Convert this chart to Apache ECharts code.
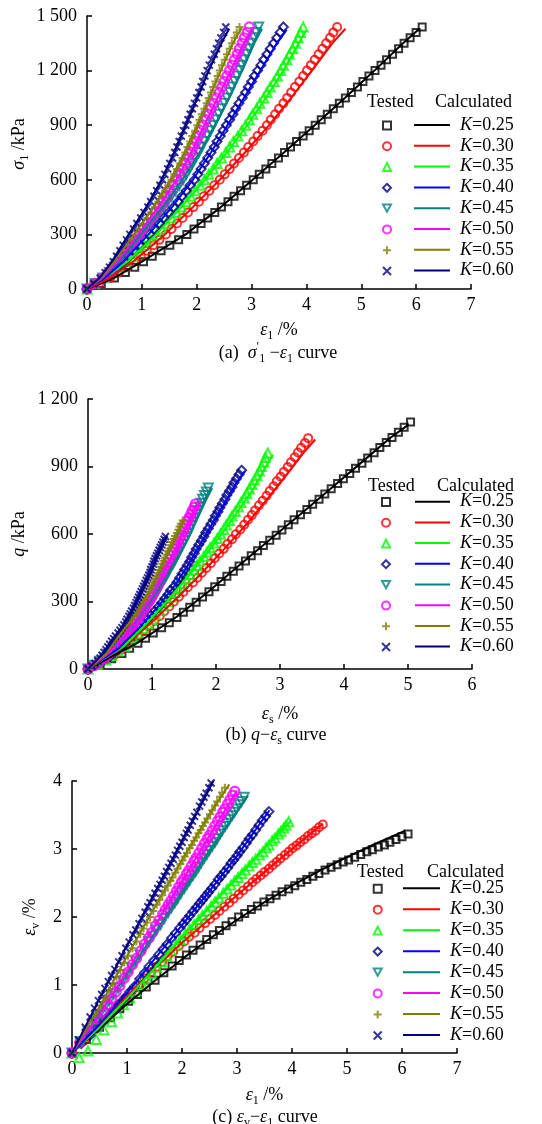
<!DOCTYPE html>
<html>
<head>
<meta charset="utf-8">
<title>K stress-strain curves</title>
<script src="https://cdn.jsdelivr.net/npm/echarts/dist/echarts.min.js"></script>
<style>
html, body { margin: 0; padding: 0; background: #fff; }
#chart { width: 542px; height: 1124px; }
</style>
</head>
<body>
<div id="chart"></div>
<script>
// load steps (sigma1, kPa) shared by the tested points of panel (a)
const SIG1 = [0,30,60,90,120,150,180,210,240,270,300,330,360,390,420,450,480,510,540,570,600,630,660,690,720,750,780,810,840,870,900,930,960,990,1020,1050,1080,1110,1140,1170,1200,1230,1260,1290,1320,1350,1380,1410,1440];

// tested eps1 (%) per K, same load steps
const eps1K25 = [0,0.26,0.50,0.70,0.87,1.03,1.19,1.35,1.51,1.67,1.82,1.95,2.08,2.20,2.33,2.45,2.57,2.68,2.80,2.91,3.03,3.14,3.26,3.37,3.49,3.60,3.71,3.82,3.94,4.05,4.16,4.27,4.38,4.49,4.60,4.71,4.82,4.93,5.03,5.14,5.25,5.36,5.46,5.57,5.68,5.78,5.89,6.00,6.11];
const eps1K30 = [0,0.22,0.42,0.58,0.72,0.86,0.98,1.09,1.21,1.32,1.44,1.54,1.64,1.74,1.84,1.94,2.04,2.13,2.23,2.32,2.42,2.51,2.60,2.68,2.77,2.86,2.94,3.03,3.11,3.20,3.28,3.35,3.43,3.50,3.58,3.65,3.72,3.79,3.87,3.94,4.01,4.08,4.15,4.22,4.29,4.36,4.43,4.49,4.56];
const eps1K35 = [0,0.13,0.29,0.44,0.58,0.72,0.83,0.94,1.05,1.16,1.27,1.36,1.45,1.54,1.63,1.72,1.80,1.89,1.97,2.06,2.14,2.22,2.30,2.37,2.45,2.53,2.60,2.67,2.75,2.82,2.89,2.96,3.02,3.09,3.15,3.22,3.28,3.34,3.41,3.47,3.53,3.58,3.64,3.69,3.75,3.80,3.85,3.89,3.94];
const eps1K40 = [0,0.17,0.33,0.46,0.57,0.68,0.77,0.86,0.96,1.05,1.14,1.23,1.32,1.40,1.49,1.58,1.66,1.73,1.81,1.88,1.96,2.02,2.08,2.14,2.20,2.26,2.32,2.37,2.43,2.48,2.54,2.60,2.66,2.71,2.77,2.83,2.89,2.94,3.00,3.05,3.11,3.17,3.22,3.28,3.34,3.40,3.46,3.52,3.58];
const eps1K45 = [0,0.15,0.29,0.41,0.50,0.60,0.68,0.76,0.84,0.92,1.00,1.08,1.16,1.24,1.32,1.40,1.47,1.54,1.61,1.68,1.75,1.81,1.87,1.92,1.98,2.04,2.09,2.14,2.20,2.25,2.30,2.35,2.40,2.45,2.50,2.55,2.60,2.64,2.69,2.73,2.78,2.82,2.86,2.91,2.95,2.99,3.04,3.08,3.13];
const eps1K50 = [0,0.14,0.28,0.39,0.48,0.57,0.65,0.72,0.80,0.87,0.95,1.02,1.10,1.17,1.25,1.32,1.39,1.45,1.52,1.58,1.65,1.70,1.75,1.80,1.85,1.90,1.94,1.99,2.03,2.08,2.12,2.17,2.22,2.26,2.31,2.36,2.41,2.46,2.50,2.55,2.60,2.65,2.69,2.74,2.78,2.83,2.87,2.92,2.96];
const eps1K55 = [0,0.13,0.26,0.36,0.45,0.53,0.60,0.67,0.74,0.81,0.88,0.95,1.02,1.10,1.17,1.24,1.30,1.36,1.42,1.48,1.54,1.59,1.64,1.69,1.74,1.79,1.83,1.88,1.92,1.97,2.01,2.05,2.09,2.14,2.18,2.22,2.26,2.30,2.34,2.38,2.42,2.46,2.51,2.55,2.60,2.64,2.69,2.73,2.78];
const eps1K60 = [0,0.12,0.24,0.33,0.41,0.48,0.54,0.60,0.66,0.72,0.78,0.85,0.91,0.98,1.04,1.11,1.16,1.22,1.27,1.33,1.38,1.42,1.47,1.51,1.56,1.60,1.64,1.68,1.72,1.76,1.80,1.84,1.88,1.92,1.96,2.00,2.04,2.08,2.11,2.15,2.19,2.23,2.27,2.32,2.36,2.40,2.44,2.49,2.53];

// tested eps_v (%) per K, paired with eps1 above (panel c)
const evK25 = [0,0.20,0.38,0.52,0.65,0.76,0.86,0.97,1.07,1.18,1.28,1.36,1.44,1.51,1.59,1.67,1.74,1.80,1.87,1.93,2.00,2.05,2.11,2.16,2.22,2.27,2.32,2.37,2.41,2.46,2.51,2.55,2.60,2.64,2.69,2.73,2.77,2.81,2.84,2.88,2.92,2.96,2.99,3.03,3.06,3.10,3.14,3.18,3.22];
const evK30 = [0,0.18,0.35,0.49,0.60,0.72,0.81,0.91,1.00,1.10,1.19,1.27,1.34,1.42,1.49,1.57,1.64,1.71,1.77,1.84,1.91,1.97,2.03,2.09,2.15,2.21,2.27,2.33,2.39,2.45,2.51,2.56,2.61,2.66,2.71,2.76,2.81,2.86,2.91,2.96,3.01,3.05,3.10,3.14,3.19,3.23,3.27,3.32,3.36];
const evK35 = [0,-0.07,0.03,0.20,0.34,0.46,0.59,0.71,0.81,0.91,1.01,1.09,1.17,1.26,1.34,1.43,1.51,1.59,1.67,1.75,1.82,1.89,1.96,2.02,2.09,2.16,2.22,2.28,2.35,2.41,2.47,2.53,2.58,2.64,2.69,2.75,2.80,2.85,2.91,2.96,3.02,3.06,3.12,3.16,3.22,3.26,3.31,3.35,3.40];
const evK40 = [0,0.14,0.26,0.37,0.46,0.56,0.64,0.72,0.81,0.90,0.98,1.09,1.18,1.27,1.36,1.45,1.53,1.60,1.69,1.76,1.84,1.90,1.96,2.02,2.08,2.14,2.20,2.25,2.31,2.36,2.42,2.48,2.55,2.60,2.66,2.72,2.79,2.84,2.90,2.96,3.02,3.09,3.15,3.21,3.28,3.35,3.42,3.48,3.55];
const evK45 = [0,0.17,0.32,0.46,0.56,0.68,0.77,0.87,0.96,1.06,1.15,1.25,1.35,1.44,1.54,1.64,1.72,1.81,1.89,1.98,2.07,2.14,2.21,2.27,2.35,2.42,2.48,2.54,2.61,2.67,2.73,2.80,2.86,2.92,2.98,3.04,3.10,3.15,3.22,3.27,3.33,3.38,3.43,3.49,3.54,3.59,3.65,3.70,3.76];
const evK50 = [0,0.15,0.29,0.41,0.50,0.61,0.71,0.80,0.90,0.99,1.10,1.19,1.30,1.39,1.50,1.60,1.69,1.77,1.87,1.95,2.04,2.11,2.18,2.24,2.31,2.38,2.44,2.51,2.56,2.63,2.68,2.75,2.82,2.87,2.94,3.01,3.08,3.15,3.20,3.27,3.34,3.41,3.47,3.54,3.59,3.66,3.72,3.79,3.85];
const evK55 = [0,0.17,0.34,0.48,0.59,0.70,0.81,0.91,1.02,1.12,1.22,1.33,1.43,1.54,1.64,1.75,1.83,1.92,2.00,2.09,2.18,2.25,2.32,2.39,2.46,2.53,2.58,2.65,2.71,2.78,2.83,2.89,2.94,3.01,3.06,3.12,3.17,3.23,3.28,3.34,3.39,3.45,3.51,3.57,3.64,3.70,3.77,3.83,3.90];
const evK60 = [0,0.19,0.38,0.53,0.66,0.77,0.86,0.95,1.05,1.14,1.23,1.34,1.43,1.54,1.63,1.74,1.81,1.90,1.98,2.07,2.15,2.21,2.28,2.35,2.42,2.48,2.54,2.60,2.67,2.73,2.79,2.85,2.91,2.98,3.04,3.10,3.17,3.23,3.28,3.35,3.41,3.48,3.54,3.63,3.69,3.76,3.82,3.90,3.97];

// tested eps_s (%) and q (kPa) per K (panel b)
const esK25 = [0,0.19,0.37,0.53,0.65,0.78,0.90,1.02,1.15,1.27,1.39,1.49,1.59,1.69,1.79,1.89,1.98,2.08,2.17,2.27,2.36,2.46,2.55,2.65,2.74,2.84,2.94,3.03,3.13,3.22,3.32,3.42,3.51,3.61,3.70,3.80,3.90,3.99,4.09,4.18,4.28,4.37,4.47,4.56,4.66,4.75,4.85,4.94,5.04];
const esK30 = [0,0.16,0.30,0.42,0.52,0.62,0.70,0.79,0.87,0.96,1.04,1.12,1.19,1.27,1.34,1.42,1.49,1.56,1.64,1.71,1.78,1.85,1.92,1.98,2.05,2.12,2.18,2.25,2.31,2.38,2.44,2.50,2.56,2.61,2.67,2.73,2.79,2.84,2.90,2.95,3.01,3.06,3.12,3.17,3.23,3.28,3.33,3.39,3.44];
const esK35 = [0,0.15,0.28,0.37,0.47,0.57,0.63,0.70,0.78,0.86,0.93,1.00,1.06,1.12,1.18,1.24,1.30,1.36,1.41,1.48,1.53,1.59,1.65,1.70,1.75,1.81,1.86,1.91,1.97,2.02,2.07,2.12,2.16,2.21,2.25,2.30,2.35,2.39,2.44,2.48,2.52,2.56,2.60,2.64,2.68,2.71,2.75,2.77,2.81];
const esK40 = [0,0.12,0.24,0.34,0.42,0.49,0.56,0.62,0.69,0.75,0.81,0.87,0.93,0.98,1.04,1.10,1.15,1.20,1.25,1.29,1.35,1.39,1.43,1.47,1.51,1.55,1.59,1.62,1.66,1.69,1.73,1.77,1.81,1.84,1.88,1.92,1.96,1.99,2.03,2.06,2.10,2.14,2.17,2.21,2.25,2.28,2.32,2.36,2.40];
const esK45 = [0,0.09,0.18,0.26,0.31,0.37,0.42,0.47,0.52,0.57,0.62,0.66,0.71,0.76,0.81,0.85,0.90,0.94,0.98,1.02,1.06,1.10,1.13,1.16,1.20,1.23,1.26,1.29,1.33,1.36,1.39,1.42,1.45,1.48,1.51,1.54,1.57,1.59,1.62,1.64,1.67,1.69,1.72,1.75,1.77,1.79,1.82,1.85,1.88];
const esK50 = [0,0.09,0.18,0.25,0.31,0.37,0.41,0.45,0.50,0.54,0.58,0.62,0.67,0.71,0.75,0.79,0.83,0.86,0.90,0.93,0.97,1.00,1.02,1.05,1.08,1.11,1.13,1.15,1.18,1.20,1.23,1.25,1.28,1.30,1.33,1.36,1.38,1.41,1.43,1.46,1.49,1.51,1.53,1.56,1.58,1.61,1.63,1.66,1.68];
const esK55 = [0,0.07,0.15,0.20,0.25,0.30,0.33,0.37,0.40,0.44,0.47,0.51,0.54,0.59,0.62,0.66,0.69,0.72,0.75,0.78,0.81,0.84,0.87,0.89,0.92,0.95,0.97,1.00,1.02,1.04,1.07,1.09,1.11,1.14,1.16,1.18,1.20,1.22,1.25,1.27,1.29,1.31,1.34,1.36,1.39,1.41,1.43,1.45,1.48];
const esK60 = [0,0.06,0.11,0.15,0.19,0.22,0.25,0.28,0.31,0.34,0.37,0.40,0.43,0.47,0.50,0.53,0.56,0.59,0.61,0.64,0.66,0.68,0.71,0.73,0.75,0.77,0.79,0.81,0.83,0.85,0.87,0.89,0.91,0.93,0.95,0.97,0.98,1.00,1.02,1.03,1.05,1.07,1.09,1.11,1.13,1.15,1.17,1.19,1.21];

const qK25 = [0,23,46,69,92,114,137,160,183,206,229,252,275,297,320,343,366,389,412,435,458,480,503,526,549,572,595,618,641,663,686,709,732,755,778,801,824,846,869,892,915,938,961,984,1007,1029,1052,1075,1098];
const qK30 = [0,21,43,64,86,107,128,150,171,192,214,235,257,278,299,321,342,363,385,406,428,449,470,492,513,534,556,577,599,620,641,663,684,705,727,748,770,791,812,834,855,876,898,919,941,962,983,1005,1026];
const qK35 = [0,20,40,60,80,100,120,140,160,180,200,220,240,260,280,300,320,340,360,380,400,420,440,460,480,500,520,540,560,580,600,620,640,660,680,700,720,740,760,780,800,820,840,860,880,900,920,940,960];
const qK40 = [0,18,37,55,74,92,110,129,147,166,184,202,221,239,258,276,294,313,331,350,368,386,405,423,442,460,478,497,515,533,552,570,589,607,625,644,662,681,699,717,736,754,773,791,809,828,846,865,883];
const qK45 = [0,17,34,50,67,84,101,117,134,151,168,184,201,218,235,251,268,285,302,318,335,352,369,385,402,419,436,452,469,486,503,519,536,553,570,586,603,620,637,653,670,687,704,720,737,754,771,787,804];
const qK50 = [0,15,31,46,61,76,92,107,122,138,153,168,184,199,214,229,245,260,275,291,306,321,336,352,367,382,398,413,428,443,459,474,489,505,520,535,551,566,581,596,612,627,642,658,673,688,703,719,734];
const qK55 = [0,14,28,41,55,69,83,96,110,124,138,151,165,179,193,206,220,234,248,261,275,289,303,316,330,344,358,371,385,399,413,426,440,454,468,481,495,509,523,536,550,564,578,591,605,619,633,646,660];
const qK60 = [0,12,25,37,49,61,74,86,98,110,123,135,147,160,172,184,196,209,221,233,245,258,270,282,295,307,319,331,344,356,368,380,393,405,417,429,442,454,466,479,491,503,515,528,540,552,564,577,589];

// calculated curves, [x, y]
const calcAK25 = [[0,0],[0.49,60],[1.00,150],[1.80,300],[2.44,450],[3.02,600],[3.59,750],[4.15,900],[4.70,1050],[5.24,1200],[5.76,1350],[6.06,1430]];
const calcAK30 = [[0,0],[0.41,60],[0.84,150],[1.42,300],[1.93,450],[2.42,600],[2.88,750],[3.32,900],[3.72,1050],[4.10,1200],[4.47,1350],[4.71,1430]];
const calcAK35 = [[0,0],[0.30,60],[0.74,150],[1.26,300],[1.72,450],[2.15,600],[2.55,750],[2.92,900],[3.26,1050],[3.58,1200],[3.86,1350],[3.99,1420]];
const calcAK40 = [[0,0],[0.32,60],[0.66,150],[1.12,300],[1.55,450],[1.93,600],[2.26,750],[2.56,900],[2.86,1050],[3.16,1200],[3.46,1350],[3.64,1425]];
const calcAK45 = [[0,0],[0.28,60],[0.58,150],[0.98,300],[1.38,450],[1.74,600],[2.05,750],[2.33,900],[2.59,1050],[2.83,1200],[3.05,1350],[3.19,1430]];
const calcAK50 = [[0,0],[0.27,60],[0.55,150],[0.93,300],[1.30,450],[1.63,600],[1.90,750],[2.14,900],[2.38,1050],[2.62,1200],[2.86,1350],[3.00,1425]];
const calcAK55 = [[0,0],[0.25,60],[0.50,150],[0.86,300],[1.21,450],[1.52,600],[1.78,750],[2.01,900],[2.23,1050],[2.44,1200],[2.66,1350],[2.82,1435]];
const calcAK60 = [[0,0],[0.23,60],[0.45,150],[0.76,300],[1.08,450],[1.36,600],[1.59,750],[1.80,900],[2.01,1050],[2.22,1200],[2.45,1350],[2.59,1430]];

const calcBK25 = [[0,0],[0.76,114],[1.37,229],[1.88,343],[2.35,458],[2.83,572],[3.31,686],[3.79,801],[4.26,915],[4.73,1029],[5.01,1086]];
const calcBK30 = [[0,0],[0.60,107],[1.02,214],[1.41,321],[1.78,428],[2.13,534],[2.47,641],[2.78,748],[3.08,855],[3.37,962],[3.55,1020]];
const calcBK35 = [[0,0],[0.55,100],[0.91,200],[1.23,300],[1.53,400],[1.82,500],[2.09,600],[2.34,700],[2.58,800],[2.78,900],[2.89,952]];
const calcBK40 = [[0,0],[0.48,92],[0.80,184],[1.09,276],[1.35,368],[1.56,460],[1.75,552],[1.94,644],[2.13,736],[2.32,828],[2.45,878]];
const calcBK45 = [[0,0],[0.36,84],[0.61,168],[0.85,251],[1.06,335],[1.24,419],[1.41,503],[1.57,586],[1.71,670],[1.85,754],[1.94,804]];
const calcBK50 = [[0,0],[0.35,76],[0.57,153],[0.78,229],[0.96,306],[1.11,382],[1.24,459],[1.37,535],[1.50,612],[1.63,688],[1.71,734]];
const calcBK55 = [[0,0],[0.29,69],[0.46,138],[0.65,206],[0.81,275],[0.95,344],[1.08,413],[1.19,481],[1.31,550],[1.43,619],[1.51,660]];
const calcBK60 = [[0,0],[0.21,61],[0.36,123],[0.52,184],[0.66,245],[0.77,307],[0.88,368],[0.98,429],[1.07,491],[1.17,552],[1.23,589]];

const calcCK25 = [[0,0],[0.5,0.36],[1.0,0.72],[1.5,1.06],[2.0,1.38],[2.5,1.68],[3.0,1.96],[3.5,2.22],[4.0,2.46],[4.5,2.68],[5.0,2.88],[5.5,3.07],[6.06,3.27]];
const calcCK30 = [[0,0],[0.5,0.42],[1.0,0.84],[1.5,1.24],[2.0,1.62],[2.5,1.97],[3.0,2.32],[3.5,2.66],[4.0,3.00],[4.56,3.37]];
const calcCK35 = [[0,0],[0.5,0.38],[1.0,0.80],[1.5,1.24],[2.0,1.70],[2.5,2.14],[3.0,2.58],[3.5,3.01],[3.99,3.42]];
const calcCK40 = [[0,0],[0.5,0.42],[1.0,0.88],[1.5,1.38],[2.0,1.88],[2.5,2.38],[3.0,2.90],[3.59,3.57]];
const calcCK45 = [[0,0],[0.5,0.58],[1.0,1.16],[1.5,1.76],[2.0,2.37],[2.5,2.98],[3.20,3.78]];
const calcCK50 = [[0,0],[0.5,0.56],[1.0,1.20],[1.5,1.86],[2.0,2.53],[2.5,3.20],[3.0,3.86]];
const calcCK55 = [[0,0],[0.5,0.68],[1.0,1.42],[1.5,2.14],[2.0,2.84],[2.5,3.51],[2.86,3.95]];
const calcCK60 = [[0,0],[0.5,0.80],[1.0,1.58],[1.5,2.35],[2.0,3.12],[2.57,4.00]];

const K_NAMES = ['K=0.25','K=0.30','K=0.35','K=0.40','K=0.45','K=0.50','K=0.55','K=0.60'];

const F = 'Liberation Serif';
const MARK_COLORS = ['#000000','#ff0000','#00ff00','#000080','#008080','#ff00ff','#808000','#000080'];
const LINE_COLORS = ['#000000','#ff0000','#00ff00','#0000ff','#008080','#ff00ff','#808000','#000080'];
const SYMBOLS = ['rect','circle','triangle','diamond','path://M0,0L10,0L5,9Z','circle','path://M5,0L5,10M0,5L10,5','path://M0,0L10,10M10,0L0,10'];
const SIZES = [7, 8, 9, 9, 9, 9, 8, 7];
const BORDERS = [2, 2, 2, 2, 2, 2.4, 2, 2];

const EPS1 = [eps1K25, eps1K30, eps1K35, eps1K40, eps1K45, eps1K50, eps1K55, eps1K60];
const EV = [evK25, evK30, evK35, evK40, evK45, evK50, evK55, evK60];
const ES = [esK25, esK30, esK35, esK40, esK45, esK50, esK55, esK60];
const Q = [qK25, qK30, qK35, qK40, qK45, qK50, qK55, qK60];
const CALC_A = [calcAK25, calcAK30, calcAK35, calcAK40, calcAK45, calcAK50, calcAK55, calcAK60];
const CALC_B = [calcBK25, calcBK30, calcBK35, calcBK40, calcBK45, calcBK50, calcBK55, calcBK60];
const CALC_C = [calcCK25, calcCK30, calcCK35, calcCK40, calcCK45, calcCK50, calcCK55, calcCK60];

const pair = (xs, ys) => xs.map((x, i) => [x, ys[i]]);
const testedA = EPS1.map(xs => pair(xs, SIG1));
const testedB = ES.map((xs, k) => pair(xs, Q[k]));
const testedC = EPS1.map((xs, k) => pair(xs, EV[k]));

const T_NAMES = K_NAMES.map(n => 'T' + n);

const RICH = {
  i: { fontFamily: F, fontSize: 18, fontStyle: 'italic', lineHeight: 24, color: '#000' },
  n: { fontFamily: F, fontSize: 18, lineHeight: 24, color: '#000' },
  r: { fontFamily: F, fontSize: 18, lineHeight: 24, color: '#ff0000' },
  sub: { fontFamily: F, fontSize: 12, lineHeight: 24, verticalAlign: 'bottom', color: '#000' },
  sup: { fontFamily: F, fontSize: 12, lineHeight: 24, verticalAlign: 'top', color: '#000' }
};

function kiloFmt(v) {
  if (v >= 1000) return Math.floor(v / 1000) + ' ' + String(v % 1000).padStart(3, '0');
  return String(v);
}

function xAxisOf(idx, max, name, gap) {
  return {
    gridIndex: idx, type: 'value', min: 0, max: max, interval: 1,
    name: name, nameLocation: 'middle', nameGap: gap, nameMoveOverlap: false,
    nameTextStyle: { fontFamily: F, fontSize: 18, color: '#000', rich: RICH },
    axisLine: { show: true, lineStyle: { color: '#000', width: 1.5 } },
    axisTick: { show: true, inside: true, length: 5, lineStyle: { color: '#000', width: 1.5 } },
    axisLabel: { fontFamily: F, fontSize: 18, color: '#000', margin: 7 },
    splitLine: { show: false }
  };
}
function yAxisOf(idx, max, interval, name, gap, pad) {
  return {
    gridIndex: idx, type: 'value', min: 0, max: max, interval: interval,
    name: name, nameLocation: 'middle', nameGap: gap, nameMoveOverlap: false,
    nameTextStyle: { fontFamily: F, fontSize: 18, color: '#000', rich: RICH, padding: pad },
    axisLine: { show: true, lineStyle: { color: '#000', width: 1.5 } },
    axisTick: { show: true, inside: true, length: 5, lineStyle: { color: '#000', width: 1.5 } },
    axisLabel: { fontFamily: F, fontSize: 18, color: '#000', margin: 10, formatter: kiloFmt },
    splitLine: { show: false }
  };
}

const series = [];
function addPanel(p, tested, calc) {
  for (let k = 0; k < 8; k++) {
    series.push({
      type: 'scatter', name: T_NAMES[k], xAxisIndex: p, yAxisIndex: p,
      data: tested[k], symbol: SYMBOLS[k], symbolSize: SIZES[k], clip: false,
      itemStyle: { color: 'rgba(0,0,0,0)', borderColor: MARK_COLORS[k], borderWidth: BORDERS[k] },
      silent: true
    });
    series.push({
      type: 'line', name: K_NAMES[k], xAxisIndex: p, yAxisIndex: p,
      data: calc[k], symbol: 'none', showSymbol: false, smooth: false,
      lineStyle: { color: LINE_COLORS[k], width: 2 },
      itemStyle: { color: LINE_COLORS[k] },
      silent: true
    });
  }
}
addPanel(0, testedA, CALC_A);
addPanel(1, testedB, CALC_B);
addPanel(2, testedC, CALC_C);

// one legend per row so every row sits exactly where the reference puts it
function legendsOf(rowTop, spacing, markX, lineX, lineLen) {
  const out = [];
  for (let k = 0; k < 8; k++) {
    const cy = rowTop + spacing * k;
    out.push({
      orient: 'vertical', left: markX - 4, top: cy - 4.6, padding: 0,
      itemWidth: 8, itemHeight: 8,
      data: [T_NAMES[k]], formatter: () => '', selectedMode: false,
      itemStyle: { borderWidth: 2 },
      textStyle: { fontSize: 8 }
    });
    out.push({
      orient: 'vertical', left: lineX, top: cy - 9, padding: 0,
      itemWidth: lineLen, itemHeight: 2,
      icon: 'rect', symbolKeepAspect: false,
      data: [K_NAMES[k]], selectedMode: false,
      formatter: name => '{i|K}{n|' + name.slice(1) + '}',
      textStyle: {
        fontFamily: F, fontSize: 18, color: '#000', padding: [0, 0, 0, 5],
        rich: {
          i: { fontFamily: F, fontSize: 18, fontStyle: 'italic' },
          n: { fontFamily: F, fontSize: 18 }
        }
      }
    });
  }
  return out;
}

function label(x, y, text, align) {
  return {
    type: 'text', x: x, y: y, silent: true,
    style: { text: text, fontFamily: F, fontSize: 18, fill: '#000', align: align || 'left', verticalAlign: 'middle', rich: RICH }
  };
}

const option = {
  animation: false,
  backgroundColor: '#fff',
  grid: [
    { left: 87, top: 16, width: 384, height: 273, outerBoundsMode: 'none' },
    { left: 88, top: 399, width: 384, height: 270, outerBoundsMode: 'none' },
    { left: 72, top: 781, width: 385, height: 272, outerBoundsMode: 'none' }
  ],
  xAxis: [
    xAxisOf(0, 7, '{i|ε}{sub|1}{n| /%}', 29),
    xAxisOf(1, 6, '{i|ε}{sub|s}{n| /%}', 33),
    xAxisOf(2, 7, '{i|ε}{sub|1}{n| /%}', 30)
  ],
  yAxis: [
    yAxisOf(0, 1500, 300, '{i|σ}{sub|1}{n| /kPa}', 56, [0, 0, 0, 17]),
    yAxisOf(1, 1200, 300, '{i|q}{n| /kPa}', 57, 0),
    yAxisOf(2, 4, 1, '{i|ε}{sub|v}{n| /%}', 30, 0)
  ],
  legend: [].concat(
    legendsOf(125, 20.8, 386, 414, 36),
    legendsOf(501.7, 20.7, 385, 415, 35),
    legendsOf(888.3, 20.96, 376.7, 403, 37)
  ),
  graphic: [
    label(367, 102, '{n|Tested}'),
    label(435, 102, '{n|Calculated}'),
    label(368, 486, '{n|Test}{r|ed}'),
    label(437, 486, '{n|Calculated}'),
    label(357, 872, '{n|Tested}'),
    label(427, 872, '{n|Calculated}'),
    label(278, 353, '{n|(a)  }{i|σ}{sup|′}{sub|1}{n| −}{i|ε}{sub|1}{n| curve}', 'center'),
    label(276, 735, '{n|(b) }{i|q}{n|−}{i|ε}{sub|s}{n| curve}', 'center'),
    label(265, 1117, '{n|(c) }{i|ε}{sub|v}{n|−}{i|ε}{sub|1}{n| curve}', 'center')
  ],
  series: series
};

const chart = echarts.init(document.getElementById('chart'));
chart.setOption(option);
</script>
</body>
</html>
